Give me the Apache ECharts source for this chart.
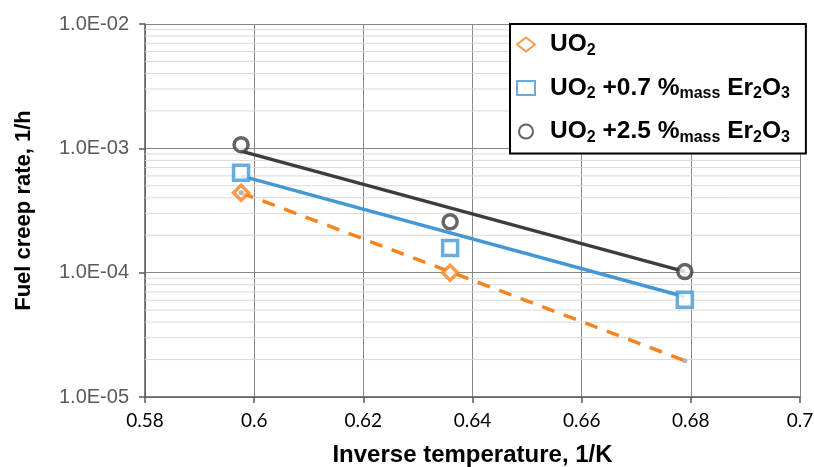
<!DOCTYPE html>
<html><head><meta charset="utf-8">
<script src="https://cdn.jsdelivr.net/npm/echarts@6/dist/echarts.min.js"></script>
<style>html,body{margin:0;padding:0;background:#fff;overflow:hidden}#c{width:814px;height:467px}</style>
</head><body><div id="c"></div>
<script>
// ---- data ----
const seriesNames = ['UO2', 'UO2 +0.7 %mass Er2O3', 'UO2 +2.5 %mass Er2O3'];
const uo2X = [0.5976, 0.6359];
const uo2Y = [4.4e-4, 1.0e-4];
const er07X = [0.5976, 0.6359, 0.6789];
const er07Y = [6.35e-4, 1.58e-4, 6.05e-5];
const er25X = [0.5976, 0.6359, 0.6789];
const er25Y = [1.07e-3, 2.57e-4, 1.02e-4];
// fitted trend lines (end points)
const uo2FitX = [0.5976, 0.6789];
const uo2FitY = [4.4e-4, 1.96e-5];
const er07FitX = [0.5976, 0.6789];
const er07FitY = [6.0e-4, 6.4e-5];
const er25FitX = [0.5976, 0.6789];
const er25FitY = [9.5e-4, 1.02e-4];
// axis ticks
const xTicks = [0.58, 0.6, 0.62, 0.64, 0.66, 0.68, 0.7];
const yDecades = [1e-5, 1e-4, 1e-3, 1e-2];
const minorMult = [2, 3, 4, 5, 6, 7, 8, 9];

const pair = (xs, ys) => xs.map((x, i) => [x, ys[i]]);
const minorVals = [];
yDecades.slice(0, 3).forEach(d => minorMult.forEach(m => minorVals.push(m * d)));
const xMin = xTicks[0], xMax = xTicks[xTicks.length - 1];

const ORANGE = '#F7831E', BLUE = '#4597D4', DARK = '#3D3D3D';
const ARIAL = "'Liberation Sans',Arial,sans-serif";

function fmtY(v) {
  const e = Math.round(Math.log10(v));
  const s = e < 0 ? '-' : '+';
  const a = Math.abs(e);
  return '1.0E' + s + (a < 10 ? '0' : '') + a;
}
const legendRich = {
  'UO2': '{sp|}{b|UO}{s|2}',
  'UO2 +0.7 %mass Er2O3': '{sp|}{b|UO}{s|2}{b| +0.7 %}{s|mass}{b| Er}{s|2}{b|O}{s|3}',
  'UO2 +2.5 %mass Er2O3': '{sp|}{b|UO}{s|2}{b| +2.5 %}{s|mass}{b| Er}{s|2}{b|O}{s|3}'
};

const minorSeries = minorVals.map(v => ({
  type: 'line', name: 'minor', silent: true, z: 0, showSymbol: false,
  data: [[xMin, v], [xMax, v]],
  lineStyle: {color: '#d9d9d9', width: 1}
}));

const chart = echarts.init(document.getElementById('c'), null, {renderer: 'canvas'});
chart.setOption({
  animation: false,
  backgroundColor: '#fff',
  grid: {left: 145, right: 14, top: 24, bottom: 70, containLabel: false, outerBoundsMode: 'none'},
  xAxis: {
    type: 'value', min: xMin, max: xMax, interval: 0.02,
    axisLine: {show: true, onZero: false, lineStyle: {color: '#595959', width: 1.5}},
    axisTick: {show: true, length: 6, lineStyle: {color: '#595959', width: 1.5}},
    axisLabel: {color: '#000', fontSize: 19, fontFamily: 'Lato, sans-serif', margin: 14,
      formatter: v => String(parseFloat(v.toFixed(2)))},
    splitLine: {show: true, lineStyle: {color: '#888', width: 1}},
    name: 'Inverse temperature, 1/K', nameLocation: 'middle', nameGap: 46,
    nameTextStyle: {color: '#000', fontSize: 24, fontWeight: 'bold', fontFamily: ARIAL}
  },
  yAxis: {
    type: 'log', logBase: 10, min: yDecades[0], max: yDecades[yDecades.length - 1],
    axisLine: {show: true, onZero: false, lineStyle: {color: '#595959', width: 1.5}},
    axisTick: {show: true, length: 6, lineStyle: {color: '#595959', width: 1.5}},
    axisLabel: {color: '#595959', fontSize: 20, fontFamily: ARIAL, margin: 16, formatter: fmtY},
    splitLine: {show: true, lineStyle: {color: '#888', width: 1}},
    name: 'Fuel creep rate, 1/h', nameLocation: 'middle', nameGap: 110, nameRotate: 90,
    nameTextStyle: {color: '#000', fontSize: 22, fontWeight: 'bold', fontFamily: ARIAL}
  },
  legend: {
    data: seriesNames, orient: 'vertical', left: 510, top: 24,
    backgroundColor: '#fff', borderColor: '#000', borderWidth: 2,
    padding: [8, 16, 8, 6], itemGap: 17, itemWidth: 18, itemHeight: 14,
    formatter: n => legendRich[n],
    textStyle: {
      rich: {
        sp: {width: 10},
        b: {fontSize: 24.5, fontWeight: 'bold', color: '#000', fontFamily: ARIAL, lineHeight: 28},
        s: {fontSize: 16, fontWeight: 'bold', color: '#000', fontFamily: ARIAL, lineHeight: 18, verticalAlign: 'bottom'}
      }
    }
  },
  series: minorSeries.concat([
    {type: 'line', name: 'fit0', data: pair(uo2FitX, uo2FitY), showSymbol: false, z: 2,
      lineStyle: {color: ORANGE, width: 3.5, type: [13, 10]}},
    {type: 'line', name: 'fit1', data: pair(er07FitX, er07FitY), showSymbol: false, z: 2,
      lineStyle: {color: BLUE, width: 3.5}},
    {type: 'line', name: 'fit2', data: pair(er25FitX, er25FitY), showSymbol: false, z: 2,
      lineStyle: {color: DARK, width: 3.5}},
    {type: 'scatter', name: seriesNames[0], data: pair(uo2X, uo2Y), symbol: 'diamond', symbolSize: 15, z: 4,
      itemStyle: {color: '#fff', borderColor: ORANGE, borderWidth: 3.5}},
    {type: 'scatter', name: seriesNames[1], data: pair(er07X, er07Y), symbol: 'rect', symbolSize: 15, z: 4,
      itemStyle: {color: '#fff', borderColor: BLUE, borderWidth: 3.5}},
    {type: 'scatter', name: seriesNames[2], data: pair(er25X, er25Y), symbol: 'circle', symbolSize: 14, z: 4,
      itemStyle: {color: '#fff', borderColor: DARK, borderWidth: 3.5}},
    {type: 'scatter', name: 'fitdots', data: pair(uo2FitX, uo2FitY), symbol: 'circle', symbolSize: 5, z: 5,
      itemStyle: {color: '#A5A5A5'}}
  ])
});
</script></body></html>
